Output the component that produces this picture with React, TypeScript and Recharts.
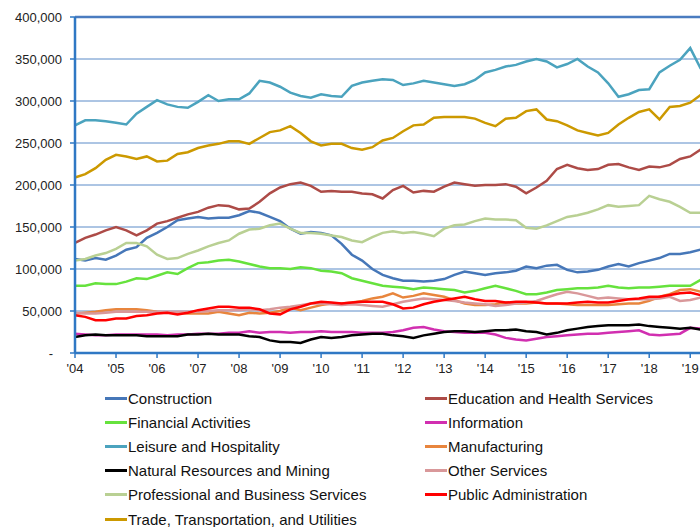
import { LineChart, Line, XAxis, YAxis, CartesianGrid, ReferenceLine } from 'recharts'

// quarterly readings, thousands of employees, 2004 Q1 .. 2019 Q3
const yearTicks = [2004, 2005, 2006, 2007, 2008, 2009, 2010, 2011, 2012, 2013, 2014, 2015, 2016, 2017, 2018, 2019]
const valueTicks = [0, 50000, 100000, 150000, 200000, 250000, 300000, 350000, 400000]

const construction = [112, 110, 113, 111, 116, 123, 126, 137, 143, 150, 158, 160, 162, 160, 161, 161, 164, 169, 167, 162, 157, 148, 142, 144, 143, 140, 130, 117, 110, 100, 93, 89, 86, 86, 85, 86, 88, 93, 97, 95, 93, 95, 96, 98, 103, 101, 104, 105, 99, 96, 97, 99, 103, 106, 103, 107, 110, 113, 118, 118, 120, 123, 124]
const education = [131, 137, 141, 146, 150, 146, 140, 146, 154, 157, 161, 165, 168, 173, 176, 175, 171, 172, 180, 190, 197, 201, 203, 199, 192, 193, 192, 192, 190, 189, 184, 194, 199, 191, 193, 192, 198, 203, 201, 199, 200, 200, 201, 198, 190, 197, 205, 219, 224, 220, 218, 219, 224, 225, 221, 218, 222, 221, 224, 231, 234, 242, 246]
const financial = [80, 80, 83, 82, 82, 85, 89, 88, 92, 96, 94, 101, 107, 108, 110, 111, 109, 106, 103, 101, 101, 100, 102, 101, 98, 97, 95, 89, 86, 83, 80, 79, 78, 76, 78, 77, 76, 75, 72, 74, 77, 80, 77, 74, 70, 70, 72, 75, 76, 77, 77, 78, 80, 78, 77, 78, 78, 79, 80, 80, 80, 87, 90]
const information = [23, 22, 21, 21, 22, 22, 22, 22, 22, 21, 22, 22, 23, 23, 23, 24, 24, 26, 24, 25, 25, 24, 25, 25, 26, 25, 25, 25, 24, 24, 24, 25, 27, 30, 31, 28, 26, 25, 24, 24, 24, 22, 18, 16, 15, 17, 19, 20, 21, 22, 23, 23, 24, 25, 26, 27, 22, 21, 22, 23, 30, 29, 29]
const leisure = [271, 277, 277, 276, 274, 272, 285, 293, 301, 296, 293, 292, 299, 307, 300, 302, 302, 309, 324, 322, 317, 310, 306, 304, 308, 306, 305, 318, 322, 324, 326, 325, 319, 321, 324, 322, 320, 318, 320, 325, 334, 337, 341, 343, 347, 350, 347, 340, 344, 350, 341, 334, 321, 305, 308, 313, 314, 334, 342, 349, 363, 339, 330]
const manufacturing = [47, 48, 49, 51, 52, 52, 52, 51, 49, 48, 48, 47, 47, 47, 49, 47, 45, 48, 47, 48, 50, 54, 51, 54, 57, 59, 59, 60, 62, 65, 67, 71, 66, 68, 71, 69, 67, 63, 59, 57, 57, 58, 60, 59, 59, 60, 59, 59, 58, 57, 57, 57, 57, 58, 59, 59, 62, 67, 70, 75, 76, 73, 72]
const mining = [19, 21, 22, 21, 21, 21, 21, 20, 20, 20, 20, 22, 22, 23, 22, 22, 22, 20, 19, 15, 13, 13, 12, 16, 19, 18, 19, 21, 22, 23, 23, 21, 20, 18, 21, 23, 25, 26, 26, 25, 26, 27, 27, 28, 26, 25, 22, 24, 27, 29, 31, 32, 33, 33, 33, 34, 32, 31, 30, 29, 30, 28, 28]
const otherServices = [48, 47, 47, 48, 49, 49, 49, 49, 49, 49, 49, 49, 49, 50, 51, 51, 51, 52, 51, 52, 54, 55, 57, 59, 59, 58, 57, 58, 57, 56, 55, 58, 61, 63, 65, 64, 63, 62, 60, 59, 58, 56, 57, 59, 60, 62, 66, 70, 73, 71, 68, 65, 66, 65, 64, 64, 64, 65, 67, 62, 63, 66, 66]
const professional = [110, 112, 116, 119, 124, 131, 131, 127, 117, 112, 113, 118, 122, 127, 131, 134, 142, 147, 148, 152, 154, 148, 143, 143, 142, 140, 138, 134, 132, 138, 143, 145, 143, 144, 142, 139, 148, 152, 153, 157, 160, 159, 159, 158, 149, 148, 152, 157, 162, 164, 167, 171, 176, 174, 175, 176, 187, 183, 180, 174, 167, 167, 166]
const publicAdmin = [45, 43, 39, 39, 41, 41, 44, 45, 47, 48, 46, 48, 51, 53, 55, 55, 54, 54, 52, 47, 46, 52, 55, 59, 61, 60, 59, 60, 61, 61, 61, 58, 53, 54, 58, 61, 63, 65, 67, 64, 62, 62, 60, 61, 61, 60, 59, 59, 59, 60, 61, 60, 60, 62, 64, 65, 67, 67, 69, 71, 72, 69, 68]
const trade = [209, 213, 220, 230, 236, 234, 231, 234, 228, 229, 237, 239, 244, 247, 249, 252, 252, 249, 256, 263, 265, 270, 262, 252, 247, 249, 249, 244, 242, 245, 253, 256, 264, 271, 272, 280, 281, 281, 281, 279, 274, 270, 279, 280, 288, 290, 278, 276, 271, 265, 262, 259, 262, 272, 280, 287, 290, 278, 293, 294, 298, 307, 312]

const series = [
  { key: 'construction', name: 'Construction', color: '#4677B8', values: construction },
  { key: 'education', name: 'Education and Health Services', color: '#AD4B47', values: education },
  { key: 'financial', name: 'Financial Activities', color: '#66E23D', values: financial },
  { key: 'information', name: 'Information', color: '#D12FB0', values: information },
  { key: 'leisure', name: 'Leisure and Hospitality', color: '#4BA3BE', values: leisure },
  { key: 'manufacturing', name: 'Manufacturing', color: '#E8853D', values: manufacturing },
  { key: 'mining', name: 'Natural Resources and Mining', color: '#000000', values: mining },
  { key: 'other', name: 'Other Services', color: '#D9989A', values: otherServices },
  { key: 'professional', name: 'Professional and Business Services', color: '#B9D093', values: professional },
  { key: 'publicAdmin', name: 'Public Administration', color: '#FF0000', values: publicAdmin },
  { key: 'trade', name: 'Trade, Transportation, and Utilities', color: '#CC9900', values: trade },
]

const data = construction.map((_, i) => {
  const row: Record<string, number> = { t: 2004 + i / 4 }
  series.forEach(s => { row[s.key] = s.values[i] * 1000 })
  return row
})

const axisBlue = '#2F78C4'
const font = '"Liberation Sans", Arial, sans-serif'

function YTick({ x, y, payload }: any) {
  const v = payload.value as number
  return (
    <text x={v === 0 ? x - 9 : x} y={y} dy={4.5} textAnchor="end" fontSize={13} fill="#222" fontFamily={font}>
      {v === 0 ? '-' : v.toLocaleString('en-US')}
    </text>
  )
}

function ChartLegend() {
  return (
    <div style={{ position: 'absolute', left: 0, top: 389, width: 700, fontFamily: font, fontSize: 15, color: '#111' }}>
      {series.map((s, i) => (
        <div
          key={s.key}
          style={{
            position: 'absolute',
            left: i % 2 === 0 ? 105 : 425,
            top: Math.floor(i / 2) * 24.2,
            height: 18,
            display: 'flex',
            alignItems: 'center',
            whiteSpace: 'nowrap',
          }}
        >
          <span style={{ display: 'inline-block', width: 22, height: 3, background: s.color, marginRight: 1 }} />
          <span>{s.name}</span>
        </div>
      ))}
    </div>
  )
}

export default function App() {
  return (
    <div style={{ position: 'absolute', left: 0, top: 0, width: 700, height: 527, overflow: 'hidden', background: '#fff' }}>
      <LineChart width={725} height={385} data={data} margin={{ top: 17, right: 4, left: 0, bottom: 2 }}>
        <CartesianGrid vertical={false} stroke="#5B8BC8" strokeWidth={1} />
        <XAxis
          dataKey="t"
          type="number"
          domain={[2004, 2019.75]}
          ticks={yearTicks}
          tickFormatter={(v: number) => `'${String(v).slice(2)}`}
          height={30}
          stroke={axisBlue}
          axisLine={{ stroke: axisBlue, strokeWidth: 2.5 }}
          tickLine={{ stroke: axisBlue, strokeWidth: 1.5 }}
          tickSize={5}
          tickMargin={6}
          tick={{ fontSize: 13, fill: '#222', fontFamily: font }}
          interval={0}
        />
        <YAxis
          type="number"
          domain={[0, 400000]}
          ticks={valueTicks}
          width={75}
          axisLine={{ stroke: axisBlue, strokeWidth: 2.5 }}
          tickLine={{ stroke: axisBlue, strokeWidth: 1.5 }}
          tickSize={5}
          tickMargin={8}
          tick={<YTick />}
          interval={0}
        />
        <ReferenceLine y={400000} stroke="#4A7CC0" strokeWidth={2.5} />
        {series.map(s => (
          <Line
            key={s.key}
            type="linear"
            dataKey={s.key}
            name={s.name}
            stroke={s.color}
            strokeWidth={2.5}
            dot={false}
            isAnimationActive={false}
          />
        ))}
      </LineChart>
      <ChartLegend />
    </div>
  )
}
